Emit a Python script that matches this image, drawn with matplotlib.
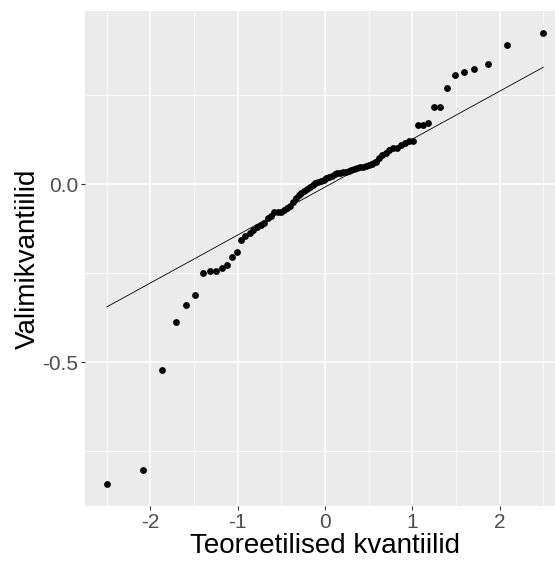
import matplotlib
matplotlib.use("Agg")
import matplotlib.pyplot as plt
import numpy as np
from statistics import NormalDist

# sorted sample values (80 observations)
valim = [
    -0.840, -0.803, -0.522, -0.386, -0.339, -0.310, -0.249, -0.242, -0.242, -0.236,
    -0.226, -0.204, -0.191, -0.157, -0.146, -0.137, -0.128, -0.119, -0.113, -0.108,
    -0.095, -0.088, -0.077, -0.076, -0.076, -0.072, -0.067, -0.060, -0.050, -0.038,
    -0.030, -0.024, -0.019, -0.014, -0.008, -0.002, 0.003, 0.007, 0.010, 0.013,
    0.018, 0.021, 0.024, 0.028, 0.031, 0.033, 0.035, 0.036, 0.039, 0.041,
    0.044, 0.047, 0.048, 0.049, 0.052, 0.055, 0.058, 0.062, 0.075, 0.082,
    0.088, 0.096, 0.101, 0.103, 0.110, 0.117, 0.123, 0.123, 0.167, 0.168,
    0.172, 0.217, 0.217, 0.272, 0.308, 0.317, 0.324, 0.338, 0.392, 0.424,
]
x_ticks = [-2, -1, 0, 1, 2]
y_ticks = [-0.5, 0.0]

plt.rcParams["font.family"] = ["Liberation Sans", "DejaVu Sans"]

# theoretical normal quantiles, like ppoints() in R
y = np.sort(np.array(valim))
n = len(y)
nd = NormalDist()
teor = np.array([nd.inv_cdf((i - 0.5) / n) for i in range(1, n + 1)])

# reference line through the quartiles
q1, q3 = np.quantile(y, [0.25, 0.75])
z1, z3 = nd.inv_cdf(0.25), nd.inv_cdf(0.75)
slope = (q3 - q1) / (z3 - z1)
icept = q1 - slope * z1

fig = plt.figure(figsize=(5.55, 5.63), dpi=100)
ax = fig.add_axes([0.1532, 0.1012, 0.8649, 0.8793])
ax.set_facecolor("#EBEBEB")

xr = teor.max() - teor.min()
yr = y.max() - y.min()
ax.set_xlim(teor.min() - 0.05 * xr, teor.max() + 0.05 * xr)
ax.set_ylim(y.min() - 0.05 * yr, y.max() + 0.05 * yr)

ax.set_xticks(x_ticks)
ax.set_yticks(y_ticks)
ax.set_xticklabels([str(v) for v in x_ticks])
ax.set_yticklabels(["%.1f" % v for v in y_ticks])
ax.set_xticks([-2.5, -1.5, -0.5, 0.5, 1.5, 2.5], minor=True)
ax.set_yticks([-0.75, -0.25, 0.25], minor=True)

ax.grid(which="major", color="white", linewidth=1.1)
ax.grid(which="minor", color="white", linewidth=0.55)
ax.set_axisbelow(True)
for s in ax.spines.values():
    s.set_visible(False)

ax.tick_params(which="major", length=3.0, width=0.8, color="#333333",
               labelsize=15, labelcolor="#4D4D4D", pad=2)
ax.tick_params(which="minor", length=0)

xs = np.array([teor.min(), teor.max()])
ax.plot(xs, icept + slope * xs, color="black", linewidth=0.6, zorder=2)
ax.scatter(teor, y, s=24, color="black", linewidths=0, zorder=3)

ax.set_xlabel("Teoreetilised kvantiilid", fontsize=20, labelpad=1)
ax.set_ylabel("Valimikvantiilid", fontsize=20, labelpad=1)

fig.savefig("out.png", dpi=100)
